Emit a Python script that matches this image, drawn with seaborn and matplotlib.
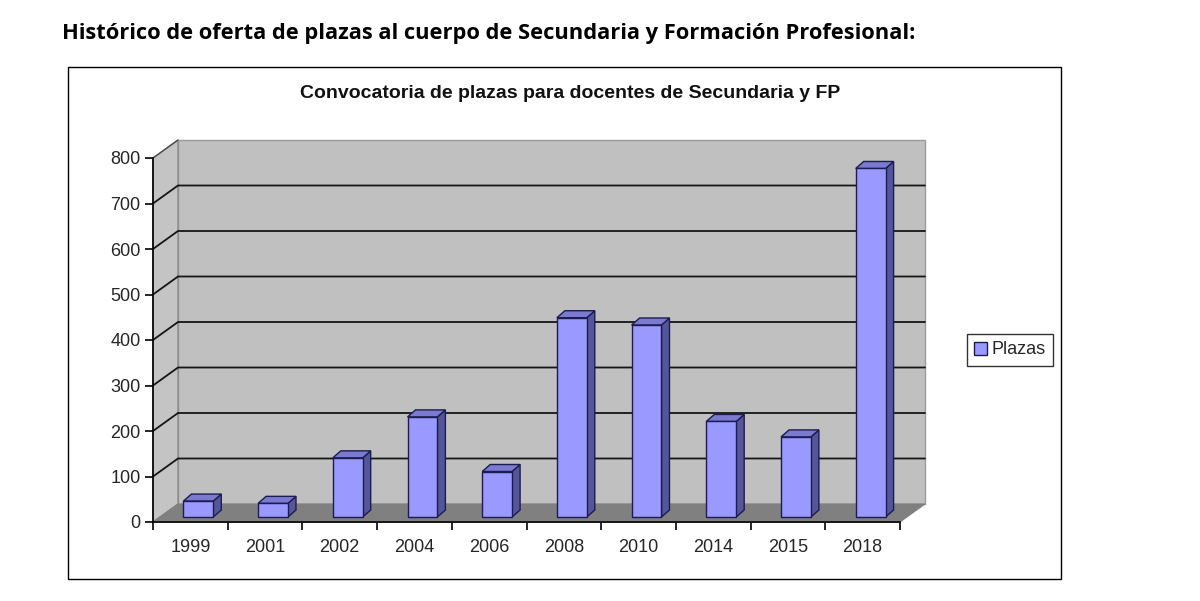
import numpy as np
import pandas as pd
import seaborn as sns
import matplotlib
matplotlib.use("Agg")
import matplotlib.pyplot as plt
from matplotlib.patches import Rectangle, Polygon, Patch
from matplotlib.transforms import ScaledTranslation

# ---- data ----
years = ["1999", "2001", "2002", "2004", "2006", "2008", "2010", "2014", "2015", "2018"]
plazas = [35, 30, 130, 220, 100, 438, 422, 210, 176, 766]
yticks = [0, 100, 200, 300, 400, 500, 600, 700, 800]
main_title = "Histórico de oferta de plazas al cuerpo de Secundaria y Formación Profesional:"
chart_title = "Convocatoria de plazas para docentes de Secundaria y FP"
series_name = "Plazas"

sns.set_theme(style="white")
plt.rcParams["font.family"] = ["Liberation Sans", "DejaVu Sans"]

W, H, DPI = 1200, 601, 100
fig = plt.figure(figsize=(W / DPI, H / DPI), dpi=DPI)
fig.patch.set_facecolor("white")

# front plane of the 3D box: x 153..900 px, y 158..522 px
ax = fig.add_axes([153 / W, (H - 522) / H, 747 / W, 364 / H])
ax.set_facecolor("none")

df = pd.DataFrame({"Año": years, series_name: plazas})
sns.barplot(data=df, x="Año", y=series_name, color="#9999ff", saturation=1,
            width=0.40, edgecolor="#1c1c50", linewidth=1.0, ax=ax, zorder=5)
ax.set_xlim(-0.5, 9.5)
ax.set_ylim(0, 800)

PX_X = 747 / 10.0   # px per category
PX_Y = 364 / 800.0  # px per unit


def off(dx, dy):
    return ax.transData + ScaledTranslation(dx / DPI, dy / DPI, fig.dpi_scale_trans)


# depth of the box
DX, DY = 25 / PX_X, 18 / PX_Y

# back wall
ax.add_patch(Rectangle((-0.5 + DX, DY), 10, 800, facecolor="#c0c0c0",
                       edgecolor="#9a9a9a", lw=1.0, clip_on=False, zorder=0.5))
# left wall
ax.add_patch(Polygon([(-0.5, 0), (-0.5, 800), (-0.5 + DX, 800 + DY), (-0.5 + DX, DY)],
                     closed=True, facecolor="#c4c4c4", edgecolor="#8a8a8a", lw=1.0,
                     clip_on=False, zorder=0.6))
# floor
ax.add_patch(Polygon([(-0.5, 0), (9.5, 0), (9.5 + DX, DY), (-0.5 + DX, DY)],
                     closed=True, facecolor="#808080", edgecolor="#808080", lw=0.8,
                     clip_on=False, zorder=0.7))
# gridlines on back & left wall
for v in yticks[1:-1]:
    ax.plot([-0.5, -0.5 + DX, 9.5 + DX], [v, v + DY, v + DY], color="#151515",
            lw=1.3, clip_on=False, zorder=1, solid_joinstyle="miter")
ax.plot([-0.5, -0.5 + DX], [800, 800 + DY], color="#505050", lw=1.0, clip_on=False, zorder=1)

# 3D bars: shift front faces and add side/top faces
BOX, BOY = 8, 5            # offset of bar front plane (px)
bdx, bdy = 8 / PX_X, 7 / PX_Y
tr = off(BOX, BOY)
for p in list(ax.patches):
    if not isinstance(p, Rectangle) or abs(p.get_width() - 0.40) > 1e-6:
        continue
    p.set_transform(tr)
    p.set_clip_on(False)
    x0, w, h = p.get_x(), p.get_width(), p.get_height()
    side = Polygon([(x0 + w, 0), (x0 + w, h), (x0 + w + bdx, h + bdy), (x0 + w + bdx, bdy)],
                   closed=True, facecolor="#55559a", edgecolor="#1c1c50", lw=1.0,
                   transform=tr, clip_on=False, zorder=4)
    top = Polygon([(x0, h), (x0 + w, h), (x0 + w + bdx, h + bdy), (x0 + bdx, h + bdy)],
                  closed=True, facecolor="#7a7ad0", edgecolor="#1c1c50", lw=1.0,
                  transform=tr, clip_on=False, zorder=4)
    ax.add_patch(side)
    ax.add_patch(top)

# axes
for s in ["top", "right"]:
    ax.spines[s].set_visible(False)
for s in ["left", "bottom"]:
    ax.spines[s].set_color("black")
    ax.spines[s].set_linewidth(1.2)
    ax.spines[s].set_zorder(6)
ax.set_yticks(yticks)
ax.set_yticklabels([str(v) for v in yticks])
ax.tick_params(axis="y", which="major", direction="out", length=6, width=1.2,
               color="black", labelsize=13, pad=3, left=True)
ax.set_xticks(range(len(years)))
ax.set_xticklabels(years)
ax.set_xticks(np.arange(-0.5, 10.0, 1.0), minor=True)
ax.tick_params(axis="x", which="major", length=0, labelsize=13, pad=12)
ax.tick_params(axis="x", which="minor", direction="out", length=6, width=1.2,
               color="black", bottom=True)
ax.set_xlabel("")
ax.set_ylabel("")
ax.grid(False)

# chart frame
fig.add_artist(Rectangle((68 / W, 1 - 579 / H), (1061 - 68) / W, (579 - 67) / H,
                         transform=fig.transFigure, facecolor="none",
                         edgecolor="black", lw=1.0))
# titles
fig.text(570 / W, 1 - 93 / H, chart_title, ha="center", va="center", fontsize=14,
         fontweight="bold", color="#111111")
fig.text(62 / W, 1 - 33 / H, main_title, ha="left", va="center", fontsize=15.75,
         fontweight="bold", family=["Open Sans", "DejaVu Sans"], color="black")

# legend
handle = Patch(facecolor="#9999ff", edgecolor="#1c1c50", lw=1.0)
leg = fig.legend([handle], [series_name], loc="center",
                 bbox_to_anchor=(1010 / W, 1 - 350 / H), frameon=True,
                 fancybox=False, fontsize=13, handlelength=0.7, handleheight=0.7,
                 handletextpad=0.3, borderpad=0.4)
leg.get_frame().set_edgecolor("black")
leg.get_frame().set_linewidth(1.0)

fig.savefig("out.png", dpi=DPI, facecolor="white")
